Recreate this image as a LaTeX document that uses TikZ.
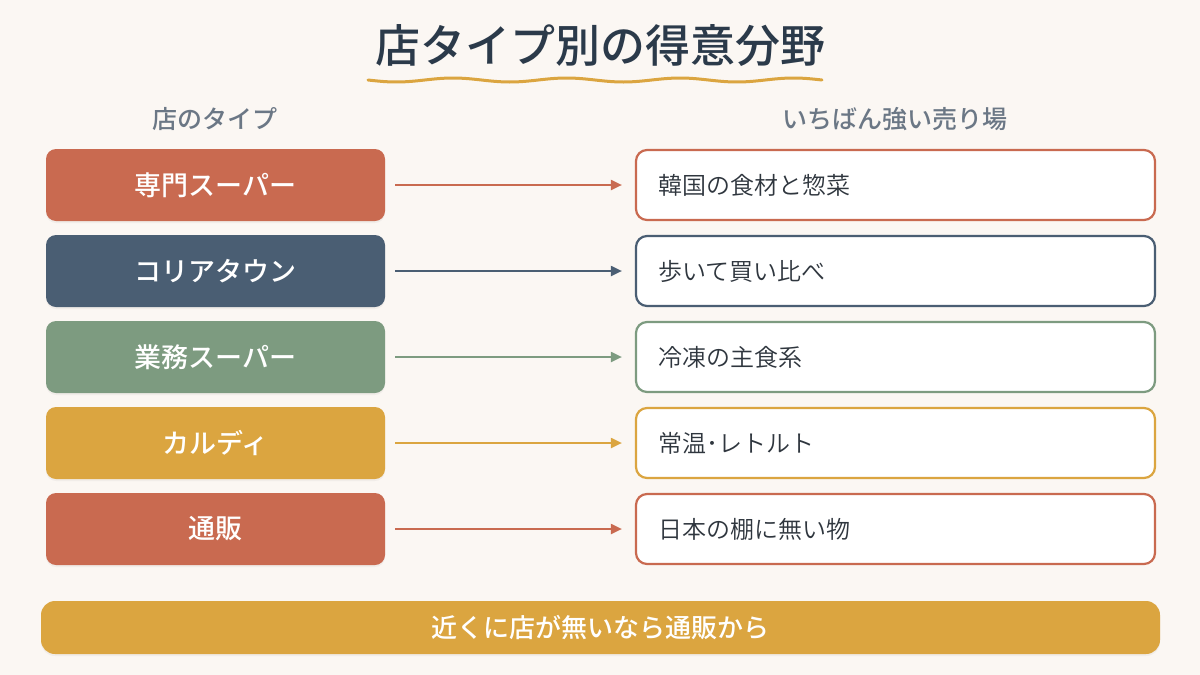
\documentclass[tikz,border=0pt]{standalone}
\usepackage{fontspec}
\setmainfont{Noto Sans CJK JP}[BoldFont={Noto Sans CJK JP Medium}]
\newfontfamily\lightjp{Noto Sans CJK JP DemiLight}
\usetikzlibrary{arrows.meta,shadows}
\definecolor{bgc}{HTML}{FBF7F3}
\definecolor{titlec}{HTML}{2B3A4A}
\definecolor{headc}{HTML}{6B7785}
\definecolor{terra}{HTML}{C96A50}
\definecolor{navy}{HTML}{4A5E73}
\definecolor{sage}{HTML}{7D9B80}
\definecolor{gold}{HTML}{DBA540}
\definecolor{txtc}{HTML}{2F363E}
\tikzset{
  shopbox/.style={draw=none, fill=#1, rounded corners=10pt, minimum width=339pt, minimum height=72pt,
    text=white, font=\fontsize{27}{32}\selectfont\bfseries, inner sep=0pt,
    drop shadow={opacity=0.08, shadow xshift=0pt, shadow yshift=-2pt}},
  areabox/.style={draw=#1, line width=2.2pt, fill=white, rounded corners=11pt, minimum width=519pt,
    minimum height=70pt, text width=475pt, align=left, inner xsep=22pt, inner ysep=0pt, text=txtc,
    font=\fontsize{24}{28}\selectfont\lightjp},
  link/.style={draw=#1, line width=2pt, -{Triangle[length=11pt,width=10pt]}, shorten <=10pt, shorten >=13pt},
  headtxt/.style={text=headc, font=\fontsize{25}{30}\selectfont\bfseries}
}
\begin{document}
\begin{tikzpicture}[x=1pt,y=-1pt]
\useasboundingbox (0,0) rectangle (1200,675);
\fill[bgc] (0,0) rectangle (1200,675);
\node[text=titlec, font=\fontsize{45}{52}\selectfont\bfseries] (title) at (600,46) {店タイプ別の得意分野};
\draw[gold, line width=3pt, line cap=round, domain=368:822, samples=120] plot (\x, {80+2*sin((\x-368)/454*4*360)});
\node[headtxt] (h1) at (215,119) {店のタイプ};
\node[headtxt] (h2) at (895,119) {いちばん強い売り場};
\foreach \i/\c/\a/\b in {1/terra/専門スーパー/韓国の食材と惣菜, 2/navy/コリアタウン/歩いて買い比べ, 3/sage/業務スーパー/冷凍の主食系, 4/gold/カルディ/常温･レトルト, 5/terra/通販/日本の棚に無い物}{
  \node[shopbox=\c] (L\i) at (215.5,{185+86*(\i-1)}) {\a};
  \node[areabox=\c] (R\i) at (895.5,{185+86*(\i-1)}) {\b};
  \draw[link=\c] (L\i) -- (R\i);
}
\node[fill=gold, rounded corners=14pt, minimum width=1119pt, minimum height=53pt, inner sep=0pt,
  text=white, font=\fontsize{26}{30}\selectfont\bfseries,
  drop shadow={opacity=0.08, shadow xshift=0pt, shadow yshift=-2pt}] (bar) at (600.5,627.5) {近くに店が無いなら通販から};
\end{tikzpicture}
\end{document}
